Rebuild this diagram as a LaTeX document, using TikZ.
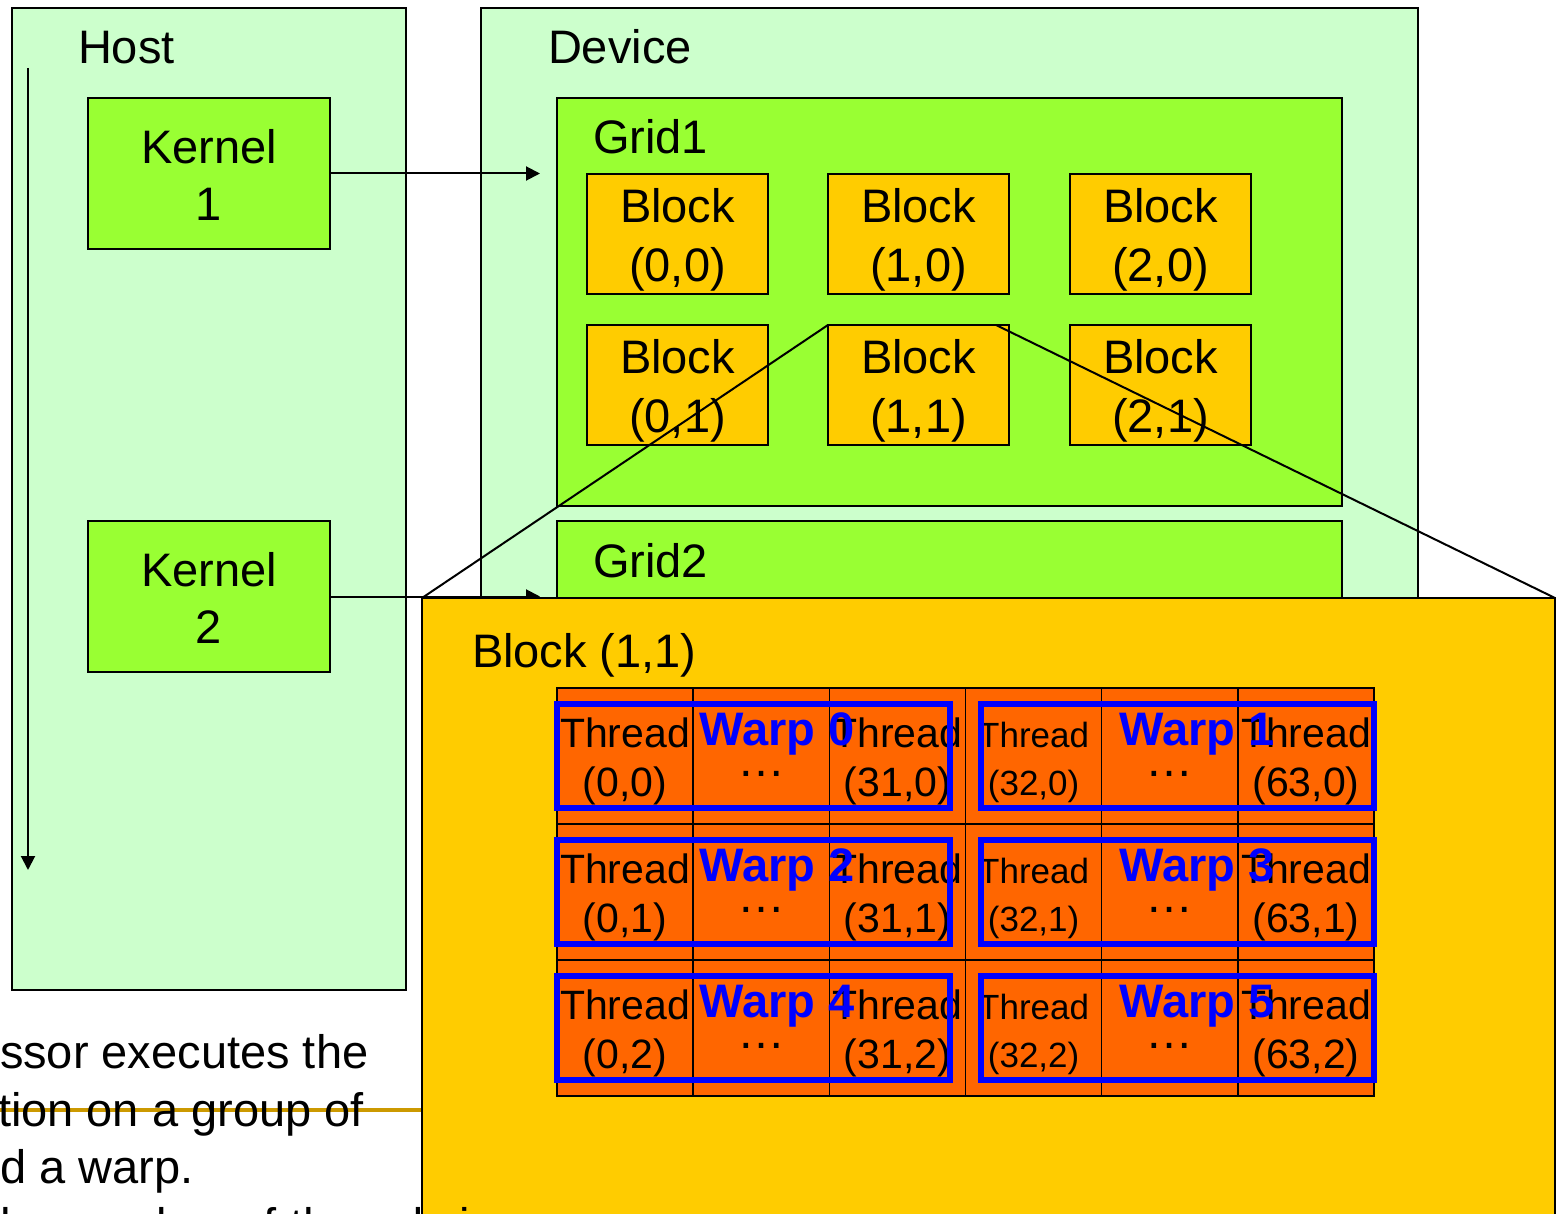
\documentclass[tikz,border=0pt]{standalone}
\usepackage{fontspec}
\setmainfont{Liberation Sans}
\usetikzlibrary{arrows.meta}

\definecolor{hostbg}{HTML}{CCFFCC}
\definecolor{gridbg}{HTML}{99FF33}
\definecolor{blockbg}{HTML}{FFCC00}
\definecolor{threadbg}{HTML}{FF6600}
\definecolor{warpblue}{HTML}{0000FF}
\definecolor{rulecol}{HTML}{CC9900}

\begin{document}
\begin{tikzpicture}[x=0.5pt,y=-0.5pt,
  frame/.style={draw=black,line width=1pt,inner sep=0pt,outer sep=0pt,anchor=north west},
  big/.style={font=\fontsize{23.5}{28.5}\selectfont,inner sep=0pt,outer sep=0pt},
  blocktxt/.style={font=\fontsize{23.5}{29.5}\selectfont,inner sep=0pt,align=center},
  celltxt/.style={font=\fontsize{20.5}{24.5}\selectfont,inner sep=0pt,align=center},
  smallcelltxt/.style={font=\fontsize{17.5}{24}\selectfont,inner sep=0pt,align=center},
  dots/.style={font=\fontsize{24}{24}\selectfont,inner sep=0pt,anchor=base},
  cell/.style={frame,fill=threadbg,line width=0.75pt,minimum width=68.1pt,minimum height=68pt},
  warpbox/.style={draw=warpblue,line width=3pt,inner sep=0pt,outer sep=0pt,anchor=north west,
                  minimum width=196.5pt,minimum height=52pt},
  warplbl/.style={font=\fontsize{23.5}{28}\selectfont\bfseries,text=warpblue,inner sep=0pt,anchor=base},
  conn/.style={draw=black,line width=1pt},
  arr/.style={-{Triangle[length=7pt,width=7pt]}}]

\useasboundingbox (0,0) rectangle (1559,1214);
\clip (0,0) rectangle (1559,1214);

% Host and device panels
\node[frame,fill=hostbg,minimum width=197pt,minimum height=491pt] (host) at (12,8) {};
\node[frame,fill=hostbg,minimum width=468.5pt,minimum height=491pt] (device) at (481,8) {};
\node[big,anchor=base west] (hostlbl) at (78,64) {Host};
\node[big,anchor=base west] (devlbl) at (548,64) {Device};

% host time line
\coordinate (tl-top) at (28,68);
\coordinate (tl-end) at (28,870);
\draw[conn,arr] (tl-top) -- (tl-end);

% kernels
\node[frame,fill=gridbg,minimum width=121pt,minimum height=75.5pt] (k1) at (88,98) {};
\node[big,align=center] (k1t) at ([yshift=-0.5pt]k1.center) {Kernel\\1};
\node[frame,fill=gridbg,minimum width=121pt,minimum height=75.5pt] (k2) at (88,521) {};
\node[big,align=center] (k2t) at ([yshift=-0.5pt]k2.center) {Kernel\\2};

% grids
\node[frame,fill=gridbg,minimum width=392.5pt,minimum height=204pt] (g1) at (557,98) {};
\node[big,anchor=base west] (g1lbl) at (593,154) {Grid1};
\node[frame,fill=gridbg,minimum width=392.5pt,minimum height=100pt] (g2) at (557,521) {};
\node[big,anchor=base west] (g2lbl) at (593,577) {Grid2};

% blocks of grid 1
\foreach \c/\x in {0/587,1/828,2/1070}{
  \foreach \r/\y in {0/174,1/325}{
    \node[frame,fill=blockbg,minimum width=90.5pt,minimum height=60pt] (b\c\r) at (\x,\y) {};
    \node[blocktxt] (bt\c\r) at ([yshift=-2.75pt]b\c\r.center) {Block\\(\c,\r)};
  }
}

% kernel launches
\coordinate (g1in) at ([xshift=-8.5pt]g1.west);
\coordinate (g2in) at ([xshift=-8.5pt]g2.west);
\draw[conn,arr] (k1.east) -- (k1.east -| g1in);
\draw[conn,arr] (k2.east) -- (k2.east -| g2in);

% enlarged block (1,1)
\node[frame,fill=blockbg,minimum width=566.5pt,minimum height=350pt] (bb) at (422,598) {};
\draw[conn] (b11.north west) -- (bb.north west);
\draw[conn] ([xshift=-6.5pt]b11.north east) -- (bb.north east);

% separator rule of the notes
\coordinate (rule-start) at (0,1110);
\draw[rulecol,line width=2pt] (rule-start) -- (rule-start -| bb.west);

\node[frame,fill=blockbg,minimum width=566.5pt,minimum height=350pt] (bb2) at (422,598) {};
\node[big,anchor=base west] (bblbl) at (472,667) {Block (1,1)};

% threads of the block
\foreach \r in {0,1,2}{
  \foreach \c in {0,...,5}{
    \node[cell] (c\r\c) at ({557+136.17*\c},{688+136*\r}) {};
  }
  \node[celltxt] (tx\r0) at ([yshift=-2.5pt]c\r0.center) {Thread\\(0,\r)};
  \node[dots] (tx\r1) at ([yshift=-10pt]c\r1.center) {…};
  \node[celltxt] (tx\r2) at ([yshift=-2.5pt]c\r2.center) {Thread\\(31,\r)};
  \node[smallcelltxt] (tx\r3) at ([yshift=-3pt]c\r3.center) {Thread\\(32,\r)};
  \node[dots] (tx\r4) at ([yshift=-10pt]c\r4.center) {…};
  \node[celltxt] (tx\r5) at ([yshift=-2.5pt]c\r5.center) {Thread\\(63,\r)};
}

% warps
\foreach \r/\wl/\wr in {0/0/1,1/2/3,2/4/5}{
  \node[warpbox] (w\wl) at (557,{704+136*\r}) {};
  \node[warpbox] (w\wr) at (981,{704+136*\r}) {};
  \node[warplbl] (wl\wl) at (777,{745+136*\r}) {Warp \wl};
  \node[warplbl] (wl\wr) at (1197,{745+136*\r}) {Warp \wr};
}

% notes text
\node[big,anchor=base west] (note1) at (0,1068) {ssor executes the};
\node[big,anchor=base west] (note2) at (-2,1126) {tion on a group of};
\node[big,anchor=base west] (note3) at (0,1183) {d a warp.};
\node[big,anchor=base west] (note4) at (-13,1241) {the number of threads in};
\end{tikzpicture}
\end{document}
